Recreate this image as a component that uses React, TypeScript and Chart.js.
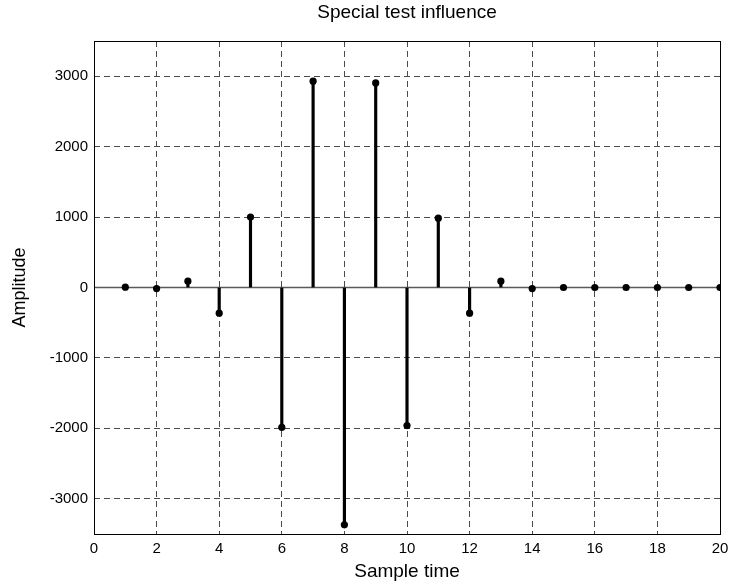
import React, { useEffect, useRef } from "react";
import { Chart, registerables } from "chart.js";

Chart.register(...registerables);

// ---- data ----
const sampleTimes = [1, 2, 3, 4, 5, 6, 7, 8, 9, 10, 11, 12, 13, 14, 15, 16, 17, 18, 19, 20];
const amplitudes = [5, -15, 90, -365, 1000, -1985, 2930, -3370, 2905, -1960, 985, -365, 90, -15, 0, 0, 0, 0, 0, 0];
const xTicks = [0, 2, 4, 6, 8, 10, 12, 14, 16, 18, 20];
const yTicks = [-3000, -2000, -1000, 0, 1000, 2000, 3000];
const xRange = [0, 20];
const yRange = [-3500, 3500];
const titleText = "Special test influence";
const xLabel = "Sample time";
const yLabel = "Amplitude";

const FONT = "'Liberation Sans', Arial, Helvetica, sans-serif";

const framePlugin = {
  id: "frameAndTitle",
  afterDraw(chart: any) {
    const { ctx, chartArea } = chart;
    ctx.save();
    ctx.strokeStyle = "#000";
    ctx.lineWidth = 1;
    ctx.setLineDash([]);
    ctx.strokeRect(
      Math.round(chartArea.left) + 0.5,
      Math.round(chartArea.top) + 0.5,
      Math.round(chartArea.right - chartArea.left),
      Math.round(chartArea.bottom - chartArea.top)
    );
    ctx.fillStyle = "#000";
    ctx.font = `19px ${FONT}`;
    ctx.textAlign = "center";
    ctx.textBaseline = "middle";
    ctx.fillText(titleText, (chartArea.left + chartArea.right) / 2, 13);
    ctx.restore();
  },
};

export default function App() {
  const ref = useRef<HTMLCanvasElement | null>(null);

  useEffect(() => {
    if (!ref.current) return;
    const points = sampleTimes.map((x, i) => ({ x, y: amplitudes[i] }));
    const gridStyle = {
      color: "#4a4a4a",
      lineWidth: 1,
      drawTicks: false,
      tickLength: 0,
      offset: false,
    };
    const chart = new Chart(ref.current, {
      type: "scatter",
      data: {
        datasets: [
          {
            type: "line",
            label: "baseline",
            data: [
              { x: xRange[0], y: 0 },
              { x: xRange[1], y: 0 },
            ],
            borderColor: "#5a5a5a",
            borderWidth: 1.5,
            pointRadius: 0,
            order: 3,
          } as any,
          {
            type: "bar",
            label: "stems",
            data: points,
            backgroundColor: "#000",
            borderWidth: 0,
            barThickness: 2.5,
            order: 2,
          } as any,
          {
            type: "scatter",
            label: "markers",
            data: points,
            pointRadius: 3.6,
            pointBackgroundColor: "#000",
            pointBorderWidth: 0,
            showLine: false,
            order: 1,
          } as any,
        ],
      },
      options: {
        responsive: false,
        animation: false,
        layout: { padding: { left: 0, right: 11, top: 41, bottom: 0 } },
        plugins: {
          legend: { display: false },
          title: { display: false },
          tooltip: { enabled: false },
        },
        scales: {
          x: {
            type: "linear",
            min: xRange[0],
            max: xRange[1],
            offset: false,
            border: { display: false, dash: [6, 4] },
            grid: { ...gridStyle },
            ticks: {
              color: "#000",
              font: { size: 15, family: FONT },
              padding: 6,
              maxRotation: 0,
              stepSize: 2,
              autoSkip: false,
              callback: (v: any) => String(v),
            },
            afterBuildTicks: (scale: any) => {
              scale.ticks = xTicks.map((v) => ({ value: v }));
            },
            afterFit: (scale: any) => {
              scale.height = 49;
              scale.paddingLeft = 0;
              scale.paddingRight = 0;
            },
            title: {
              display: true,
              text: xLabel,
              color: "#000",
              font: { size: 19, family: FONT },
              padding: { top: 0, bottom: 0 },
            },
          },
          y: {
            type: "linear",
            min: yRange[0],
            max: yRange[1],
            border: { display: false, dash: [6, 4] },
            grid: { ...gridStyle },
            ticks: {
              color: "#000",
              font: { size: 15, family: FONT },
              padding: 6,
              autoSkip: false,
              callback: (v: any) => String(v),
            },
            afterBuildTicks: (scale: any) => {
              scale.ticks = yTicks.map((v) => ({ value: v }));
            },
            afterFit: (scale: any) => {
              scale.width = 94;
              scale.paddingTop = 0;
              scale.paddingBottom = 0;
            },
            title: {
              display: true,
              text: yLabel,
              color: "#000",
              font: { size: 18, family: FONT },
              padding: { top: 9.2, bottom: 0 },
            },
          },
        },
      } as any,
      plugins: [framePlugin],
    });
    return () => chart.destroy();
  }, []);

  return (
    <div style={{ position: "absolute", left: 0, top: 0, width: 731, height: 583, background: "#fff" }}>
      <canvas ref={ref} width={731} height={583} style={{ width: 731, height: 583 }} />
    </div>
  );
}
